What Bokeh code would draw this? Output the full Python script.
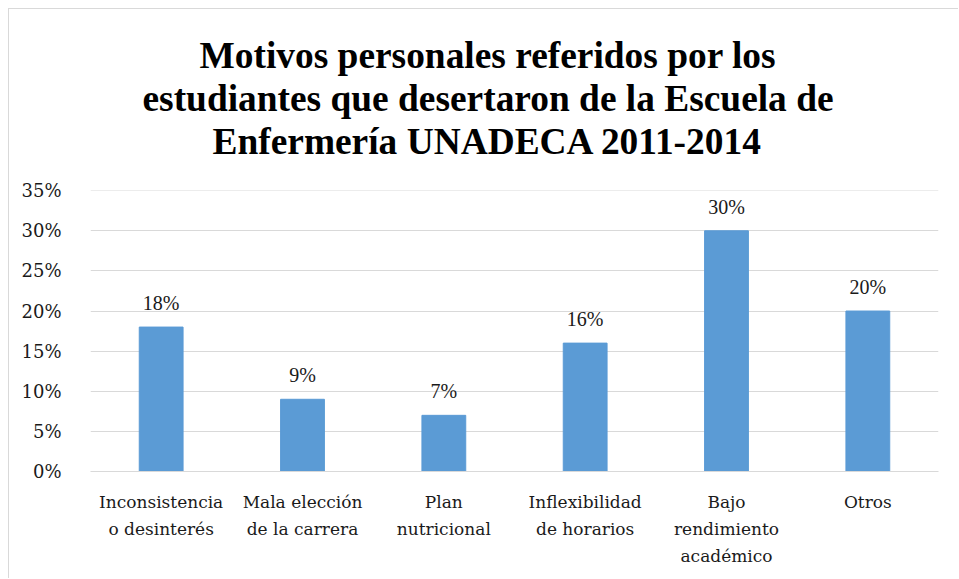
from bokeh.plotting import figure
from bokeh.models import ColumnDataSource, NumeralTickFormatter, FixedTicker, Range1d, LabelSet, Title
from bokeh.embed import file_html
from bokeh.resources import INLINE

categories = ["Inconsistencia\no desinterés", "Mala elección\nde la carrera", "Plan\nnutricional",
              "Inflexibilidad\nde horarios", "Bajo\nrendimiento\nacadémico", "Otros"]
values = [0.18, 0.09, 0.07, 0.16, 0.30, 0.20]
labels = [f"{round(v*100)}%" for v in values]
y_ticks = [0, 0.05, 0.10, 0.15, 0.20, 0.25, 0.30, 0.35]
title_lines = ["Motivos personales referidos por los",
               "estudiantes que desertaron de la Escuela de",
               "Enfermería UNADECA 2011-2014"]
title_offsets = [109, 52, 122]

src = ColumnDataSource(dict(cat=categories, val=values, lab=labels))

FONT = "Liberation Serif"
AXIS_FONT = "DejaVu Serif"
TXT = "#1a1a1a"
p = figure(x_range=categories, y_range=Range1d(0, 0.3502), width=950, height=570,
           output_backend="svg", toolbar_location=None,
           min_border_left=81, min_border_right=21, min_border_bottom=108, min_border_top=181)
p.styles = {"margin-left": "8px", "margin-top": "8px",
            "border-top": "1px solid #d9d9d9", "border-left": "1px solid #d9d9d9"}
p.outline_line_color = None
p.background_fill_color = "white"
p.border_fill_color = "white"

p.vbar(x="cat", top="val", width=0.31, source=src, color="#5B9BD5")

p.add_layout(LabelSet(x="cat", y="val", text="lab", source=src, text_align="center",
                      text_baseline="bottom", y_offset=13, text_font=FONT,
                      text_font_size="20px", text_color=TXT))

p.title = None
p.add_layout(Title(text=" ", text_font_size="24px", standoff=0), "above")
for line, off in reversed(list(zip(title_lines, title_offsets))):
    p.add_layout(Title(text=line, align="left", offset=off, text_font=FONT,
                       text_font_size="37.4px", text_font_style="bold", text_color="black",
                       standoff=0), "above")

p.yaxis.ticker = FixedTicker(ticks=y_ticks)
p.yaxis.formatter = NumeralTickFormatter(format="0%")
p.yaxis.axis_line_color = None
p.yaxis.major_tick_line_color = None
p.yaxis.minor_tick_line_color = None
p.yaxis.major_label_standoff = 23
p.yaxis.major_label_text_font = AXIS_FONT
p.yaxis.major_label_text_font_size = "18px"
p.yaxis.major_label_text_color = TXT

p.xaxis.axis_line_color = "#d9d9d9"
p.xaxis.axis_line_width = 1
p.xaxis.major_tick_line_color = None
p.xaxis.minor_tick_line_color = None
p.xaxis.major_label_standoff = 14
p.xaxis.major_label_text_font = AXIS_FONT
p.xaxis.major_label_text_font_size = "17px"
p.xaxis.major_label_text_line_height = 1.37
p.xaxis.major_label_text_color = TXT
p.xaxis.major_label_orientation = "horizontal"

p.xgrid.grid_line_color = None
p.ygrid.grid_line_color = "#d9d9d9"
p.ygrid.grid_line_width = 1

open("out.html", "w").write(file_html(p, INLINE))
